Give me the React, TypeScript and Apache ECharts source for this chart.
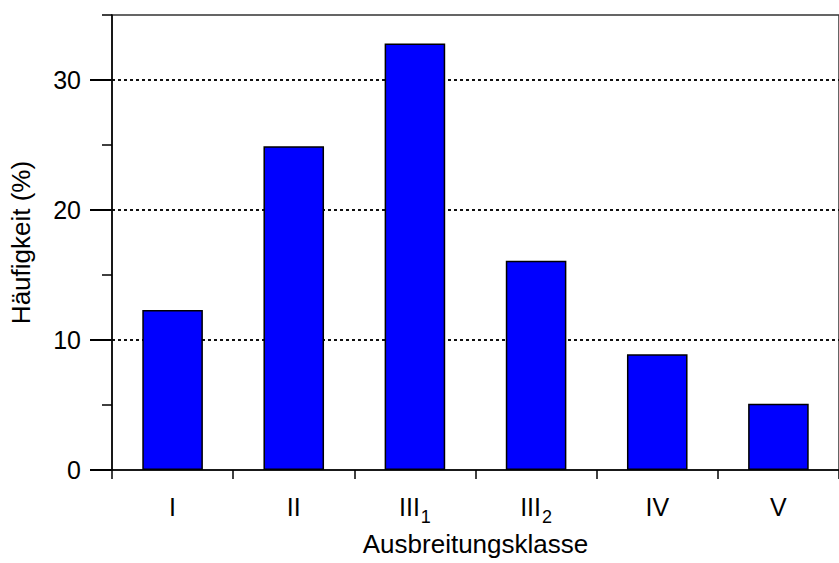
import React, { useEffect, useRef } from "react";
import * as echarts from "echarts";

const categories = ["I", "II", "III_1", "III_2", "IV", "V"];
const frequency = [12.3, 24.9, 32.8, 16.1, 8.9, 5.1];
const yMax = 35;
const yLabelMax = 30;
const yAxisName = "Häufigkeit (%)";
const xAxisName = "Ausbreitungsklasse";

const FONT = 'Arial, "Liberation Sans", sans-serif';
const GRID_LEFT = 111;
const GRID_TOP = 15;
const GRID_W = 738;
const GRID_H = 455;

function fmtCategory(v: string): string {
  const parts = v.split("_");
  if (parts.length === 2) return `{m|${parts[0]}}{s|${parts[1]}}`;
  return `{m|${v}}`;
}

export default function App() {
  const ref = useRef<HTMLDivElement>(null);
  useEffect(() => {
    if (!ref.current) return;
    const chart = echarts.init(ref.current, undefined, { renderer: "svg" });
    const labelGridTop = GRID_TOP + (GRID_H * (yMax - yLabelMax)) / yMax;
    chart.setOption({
      animation: false,
      backgroundColor: "#fff",
      textStyle: { fontFamily: FONT },
      grid: [
        {
          left: GRID_LEFT,
          top: GRID_TOP,
          width: GRID_W,
          height: GRID_H,
          show: true,
          borderColor: "#333",
          borderWidth: 1.5,
          backgroundColor: "transparent",
        },
        { left: GRID_LEFT, top: labelGridTop, width: GRID_W, height: GRID_TOP + GRID_H - labelGridTop },
      ],
      xAxis: [
        {
          type: "category",
          gridIndex: 0,
          data: categories,
          position: "bottom",
          boundaryGap: true,
          axisLine: { show: true, onZero: false, lineStyle: { color: "#000", width: 1.5 } },
          axisTick: { show: true, length: 9, inside: false, lineStyle: { color: "#000", width: 1.5 } },
          axisLabel: {
            margin: 24,
            color: "#000",
            formatter: fmtCategory,
            rich: {
              m: { fontSize: 25, fontFamily: FONT, color: "#000", lineHeight: 28, verticalAlign: "top" },
              s: { fontSize: 18, fontFamily: FONT, color: "#000", lineHeight: 18, verticalAlign: "top", padding: [14, 0, 0, 1] },
            },
          },
          name: xAxisName,
          nameLocation: "middle",
          nameGap: 52,
          nameTextStyle: { fontSize: 26, color: "#000", fontFamily: FONT },
          splitLine: { show: false },
        },
        {
          type: "category",
          gridIndex: 1,
          data: categories,
          show: false,
        },
      ],
      yAxis: [
        {
          type: "value",
          gridIndex: 0,
          min: 0,
          max: yMax,
          interval: 5,
          position: "left",
          axisLine: { show: false, onZero: false },
          axisTick: { show: true, length: 10, inside: false, lineStyle: { color: "#000", width: 1.5 } },
          axisLabel: { show: false },
          splitLine: { show: false },
        },
        {
          type: "value",
          gridIndex: 0,
          min: 0,
          max: yMax,
          interval: 10,
          position: "left",
          axisLine: { show: true, onZero: false, lineStyle: { color: "#000", width: 1.5 } },
          axisTick: { show: false },
          axisLabel: { show: false },
          splitLine: {
            show: true,
            showMinLine: false,
            showMaxLine: false,
            lineStyle: { color: "#111", width: 2, type: [3, 3] },
          },
          name: yAxisName,
          nameLocation: "middle",
          nameGap: 78,
          nameTextStyle: { fontSize: 26, color: "#000", fontFamily: FONT },
        },
        {
          type: "value",
          gridIndex: 1,
          min: 0,
          max: yLabelMax,
          interval: 10,
          position: "left",
          axisLine: { show: false, onZero: false },
          axisTick: { show: true, length: 21, inside: false, lineStyle: { color: "#000", width: 2 } },
          axisLabel: { margin: 30, fontSize: 25, color: "#000", fontFamily: FONT },
          splitLine: { show: false },
        },
      ],
      series: [
        {
          type: "bar",
          data: frequency,
          xAxisIndex: 0,
          yAxisIndex: 1,
          barWidth: "50%",
          itemStyle: { color: "#0000FF", borderColor: "#000", borderWidth: 1.5 },
        },
      ],
    });
    return () => chart.dispose();
  }, []);
  return (
    <div
      ref={ref}
      style={{ position: "fixed", left: 0, top: 0, width: 839, height: 563 }}
    />
  );
}
